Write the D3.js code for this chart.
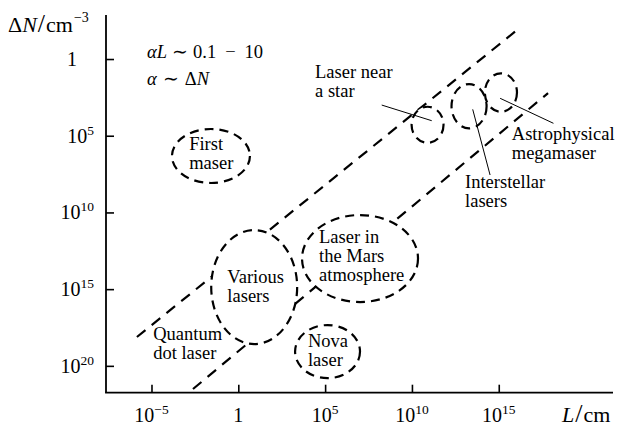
<!DOCTYPE html>
<html>
<head>
<meta charset="utf-8">
<script src="https://cdn.jsdelivr.net/npm/d3@7"></script>
<style>
  body { margin: 0; background: #fff; }
  svg text { font-family: "Liberation Serif", "Times New Roman", serif; font-size: 18.5px; fill: #000; }
</style>
</head>
<body>
<svg id="chart" width="618" height="431"></svg>
<script>
//
// Data (all values as powers of ten)
//

// axis ticks
const xTickExp = [-5, 0, 5, 10, 15];
const yTickExp = [0, 5, 10, 15, 20];

// dashed limit lines: log10 L and log10 dN at both ends
const limitLogL = [[-5.84, 16.05], [-2.61, 17.84]];
const limitLogN = [[18.12, -1.89], [21.51, 2.22]];

// dashed regions (ellipses): extent in log10 L and log10 dN
const regionNames = ["First maser", "Various lasers", "Laser in the Mars atmosphere", "Nova laser",
  "Laser near a star", "Interstellar lasers", "Astrophysical megamaser"];
const regionLogL = [[-3.82, 0.67], [-1.56, 3.39], [3.67, 10.35], [3.27, 7.01],
  [9.98, 11.82], [12.28, 14.30], [14.20, 16.05]];
const regionLogN = [[4.56, 8.08], [11.15, 18.58], [10.17, 15.84], [17.34, 20.80],
  [3.11, 5.46], [1.63, 4.52], [0.93, 3.44]];

// text labels: lines, and anchor (left edge, first baseline) in log units
const labelLines = [["First", "maser"], ["Various", "lasers"], ["Laser in", "the Mars", "atmosphere"],
  ["Nova", "laser"], ["Laser near", "a star"], ["Interstellar", "lasers"],
  ["Astrophysical", "megamaser"], ["Quantum", "dot laser"]];
const labelLogL = [-2.83, -0.63, 4.65, 4.01, 4.42, 13.06, 15.75, -4.90];
const labelLogN = [5.93, 14.62, 11.99, 18.79, 1.24, 8.41, 5.28, 18.32];

// leader lines from labels to regions
const leaderLogL = [[8.26, 11.14], [13.50, 14.50], [15.08, 18.15]];
const leaderLogN = [[3.00, 4.02], [3.28, 7.56], [2.56, 4.19]];

//
// Setup
//

const svg = d3.select("#chart");
const p10 = e => Math.pow(10, e);
const x = d3.scaleLog().domain([p10(-7.62), p10(21.58)]).range([106, 613]);
const y = d3.scaleLog().domain([p10(-2.87), p10(21.75)]).range([15, 392.7]);
const X = e => x(p10(e));
const Y = e => y(p10(e));

function powLabel(sel, e) {
  sel.style("font-size", "20px");
  if (e === 0) { sel.text("1"); return; }
  sel.append("tspan").text("10");
  sel.append("tspan").attr("dy", -8).style("font-size", "13.5px")
    .text(e < 0 ? "\u2212" + (-e) : e);
}

//
// Axes
//

svg.append("line").attr("x1", 106).attr("x2", 106).attr("y1", 15).attr("y2", y.range()[1])
  .attr("stroke", "#000").attr("stroke-width", 1.8);
svg.append("line").attr("x1", 105.1).attr("x2", 613).attr("y1", y.range()[1]).attr("y2", y.range()[1])
  .attr("stroke", "#000").attr("stroke-width", 1.8);

const yAxis = d3.axisRight(y).tickValues(yTickExp.map(p10)).tickSize(8).tickFormat("");
svg.append("g").attr("transform", "translate(106,0)").call(yAxis)
  .call(g => g.select(".domain").remove())
  .call(g => g.selectAll("line").attr("stroke", "#000").attr("stroke-width", 1.6));

const xAxis = d3.axisTop(x).tickValues(xTickExp.map(p10)).tickSize(8).tickFormat("");
svg.append("g").attr("transform", `translate(0,${y.range()[1]})`).call(xAxis)
  .call(g => g.select(".domain").remove())
  .call(g => g.selectAll("line").attr("stroke", "#000").attr("stroke-width", 1.6));

svg.selectAll(".ylab").data(yTickExp).join("text")
  .attr("class", "ylab")
  .attr("x", d => d === 0 ? 77 : 94)
  .attr("y", d => Y(d) + 7)
  .attr("text-anchor", "end")
  .each(function (d) { powLabel(d3.select(this), d); });

svg.selectAll(".xlab").data(xTickExp).join("text")
  .attr("class", "xlab")
  .attr("x", d => X(d))
  .attr("y", 422)
  .attr("text-anchor", "middle")
  .each(function (d) { powLabel(d3.select(this), d); });

// axis titles
const yt = svg.append("text").attr("x", 8).attr("y", 32).style("font-size", "22px");
yt.append("tspan").text("\u0394");
yt.append("tspan").style("font-style", "italic").text("N");
yt.append("tspan").attr("dx", 1).style("font-size", "26px").text("/");
yt.append("tspan").attr("dx", 1).text("cm");
yt.append("tspan").attr("dx", 1).attr("dy", -10).style("font-size", "14px").text("\u22123");

const xt = svg.append("text").attr("x", 562).attr("y", 422).style("font-size", "22px");
xt.append("tspan").style("font-style", "italic").text("L");
xt.append("tspan").attr("dx", 1).style("font-size", "26px").text("/");
xt.append("tspan").attr("dx", 1).text("cm");

// relations
const r1 = svg.append("text").attr("x", 147).attr("y", 58);
r1.append("tspan").style("font-style", "italic").text("\u03B1L");
r1.append("tspan").attr("dx", 5).text("\u223C");
r1.append("tspan").attr("dx", 5).text("0.1");
r1.append("tspan").attr("dx", 9).text("\u2212");
r1.append("tspan").attr("dx", 9).text("10");
const r2 = svg.append("text").attr("x", 147).attr("y", 85);
r2.append("tspan").style("font-style", "italic").text("\u03B1");
r2.append("tspan").attr("dx", 6).text("\u223C");
r2.append("tspan").attr("dx", 6).text("\u0394");
r2.append("tspan").style("font-style", "italic").text("N");

//
// Marks
//

svg.selectAll(".limit").data(limitLogL).join("line")
  .attr("class", "limit")
  .attr("x1", d => X(d[0])).attr("x2", d => X(d[1]))
  .attr("y1", (d, i) => Y(limitLogN[i][0])).attr("y2", (d, i) => Y(limitLogN[i][1]))
  .attr("stroke", "#000").attr("stroke-width", 2.2).attr("stroke-dasharray", "11,8");

// regions are filled white so the limit lines pass behind them
svg.selectAll(".region").data(regionNames).join("ellipse")
  .attr("class", "region")
  .attr("cx", (d, i) => (X(regionLogL[i][0]) + X(regionLogL[i][1])) / 2)
  .attr("cy", (d, i) => (Y(regionLogN[i][0]) + Y(regionLogN[i][1])) / 2)
  .attr("rx", (d, i) => (X(regionLogL[i][1]) - X(regionLogL[i][0])) / 2)
  .attr("ry", (d, i) => (Y(regionLogN[i][1]) - Y(regionLogN[i][0])) / 2)
  .attr("fill", "#fff").attr("stroke", "#000").attr("stroke-width", 2.2)
  .attr("stroke-dasharray", "9,6");

svg.selectAll(".leader").data(leaderLogL).join("line")
  .attr("class", "leader")
  .attr("x1", d => X(d[0])).attr("x2", d => X(d[1]))
  .attr("y1", (d, i) => Y(leaderLogN[i][0])).attr("y2", (d, i) => Y(leaderLogN[i][1]))
  .attr("stroke", "#000").attr("stroke-width", 1);

svg.selectAll(".label").data(labelLines).join("text")
  .attr("class", "label")
  .attr("x", (d, i) => X(labelLogL[i]))
  .attr("y", (d, i) => Y(labelLogN[i]))
  .each(function (d, i) {
    d3.select(this).selectAll("tspan").data(d).join("tspan")
      .attr("x", X(labelLogL[i]))
      .attr("dy", (t, j) => j === 0 ? 0 : 19)
      .text(t => t);
  });
</script>
</body>
</html>
